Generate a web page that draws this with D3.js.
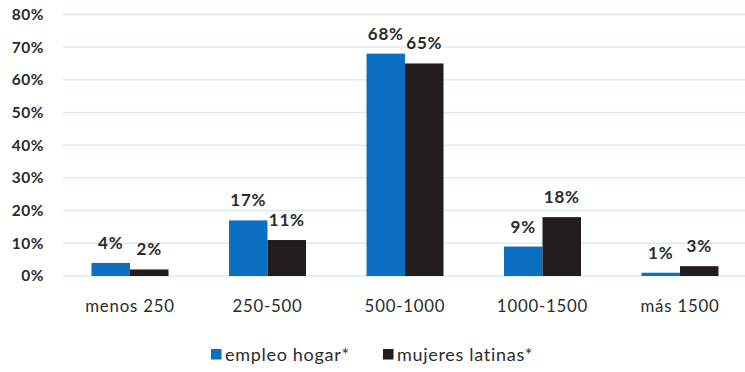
<!DOCTYPE html>
<html>
<head>
<meta charset="utf-8">
<script src="https://cdn.jsdelivr.net/npm/d3@7"></script>
<style>
  html, body { margin: 0; padding: 0; background: #fff; }
  svg { display: block; }
</style>
</head>
<body>
<svg id="chart" width="745" height="372"></svg>
<script>
// Income bands and share of each group per band
const categories = ["menos 250", "250-500", "500-1000", "1000-1500", "más 1500"];
const seriesNames = ["empleo hogar*", "mujeres latinas*"];
const empleoHogar = [4, 17, 68, 9, 1];
const mujeresLatinas = [2, 11, 65, 18, 3];
const yTicks = [0, 10, 20, 30, 40, 50, 60, 70, 80];
const colors = ["#0b6fc2", "#231c1d"];

const FONT = "Lato, 'Open Sans', sans-serif";
const svg = d3.select("#chart");

const plot = { left: 61.25, right: 748.75, top: 14.4, bottom: 276 };

const y = d3.scaleLinear().domain([0, 80]).range([plot.bottom, plot.top]);

const x0 = d3.scaleBand()
  .domain(categories)
  .range([plot.left, plot.right])
  .paddingInner(0.44)
  .paddingOuter(0.22);

const x1 = d3.scaleBand()
  .domain(seriesNames)
  .range([0, x0.bandwidth()]);

// Horizontal gridlines
svg.append("g")
  .selectAll("line")
  .data(yTicks)
  .join("line")
  .attr("x1", 63)
  .attr("x2", 745)
  .attr("y1", d => y(d))
  .attr("y2", d => y(d))
  .attr("stroke", "#d9ecec")
  .attr("stroke-width", 1.5);

// Y axis labels
const yAxis = d3.axisLeft(y).tickValues(yTicks).tickSize(0).tickPadding(0)
  .tickFormat(d => d + "%");
const gy = svg.append("g").attr("transform", "translate(44,0)").call(yAxis);
gy.select(".domain").remove();
gy.selectAll("text")
  .attr("font-family", FONT)
  .attr("font-size", 15.5)
  .attr("font-weight", "bold")
  .attr("letter-spacing", 0.5)
  .attr("fill", "#2b2b2b");

// X axis labels
const xAxis = d3.axisBottom(x0).tickSize(0).tickPadding(0);
const gx = svg.append("g").attr("transform", "translate(0,300)").call(xAxis);
gx.select(".domain").remove();
gx.selectAll("text")
  .attr("font-family", FONT)
  .attr("font-size", 16.8)
  .attr("letter-spacing", 0.8)
  .attr("fill", "#2b2b2b");

// Bars with value labels
const rows = categories.map((c, i) => ({
  cat: c,
  vals: [
    { name: seriesNames[0], v: empleoHogar[i], k: 0 },
    { name: seriesNames[1], v: mujeresLatinas[i], k: 1 }
  ]
}));

const groups = svg.append("g")
  .selectAll("g")
  .data(rows)
  .join("g")
  .attr("transform", d => `translate(${x0(d.cat)},0)`);

groups.selectAll("rect")
  .data(d => d.vals)
  .join("rect")
  .attr("x", d => x1(d.name))
  .attr("width", x1.bandwidth())
  .attr("y", d => y(d.v))
  .attr("height", d => y(0) - y(d.v))
  .attr("fill", d => colors[d.k]);

groups.selectAll("text")
  .data(d => d.vals)
  .join("text")
  .attr("x", d => x1(d.name) + x1.bandwidth() / 2)
  .attr("y", d => y(d.v) - 14)
  .attr("text-anchor", "middle")
  .attr("font-family", FONT)
  .attr("font-size", 17)
  .attr("font-weight", "bold")
  .attr("letter-spacing", 0.8)
  .attr("fill", "#2b2b2b")
  .text(d => d.v + "%");

// Legend
const legendItems = [
  { name: seriesNames[0], x: 211 },
  { name: seriesNames[1], x: 383 }
];
const lg = svg.append("g");
legendItems.forEach((it, i) => {
  lg.append("rect")
    .attr("x", it.x)
    .attr("y", 349)
    .attr("width", 10.5)
    .attr("height", 10.5)
    .attr("fill", colors[i]);
  lg.append("text")
    .attr("x", it.x + 14)
    .attr("y", 361)
    .attr("font-family", FONT)
    .attr("font-size", 18)
    .attr("letter-spacing", 0.7)
    .attr("fill", "#2b2b2b")
    .text(it.name);
});
</script>
</body>
</html>
